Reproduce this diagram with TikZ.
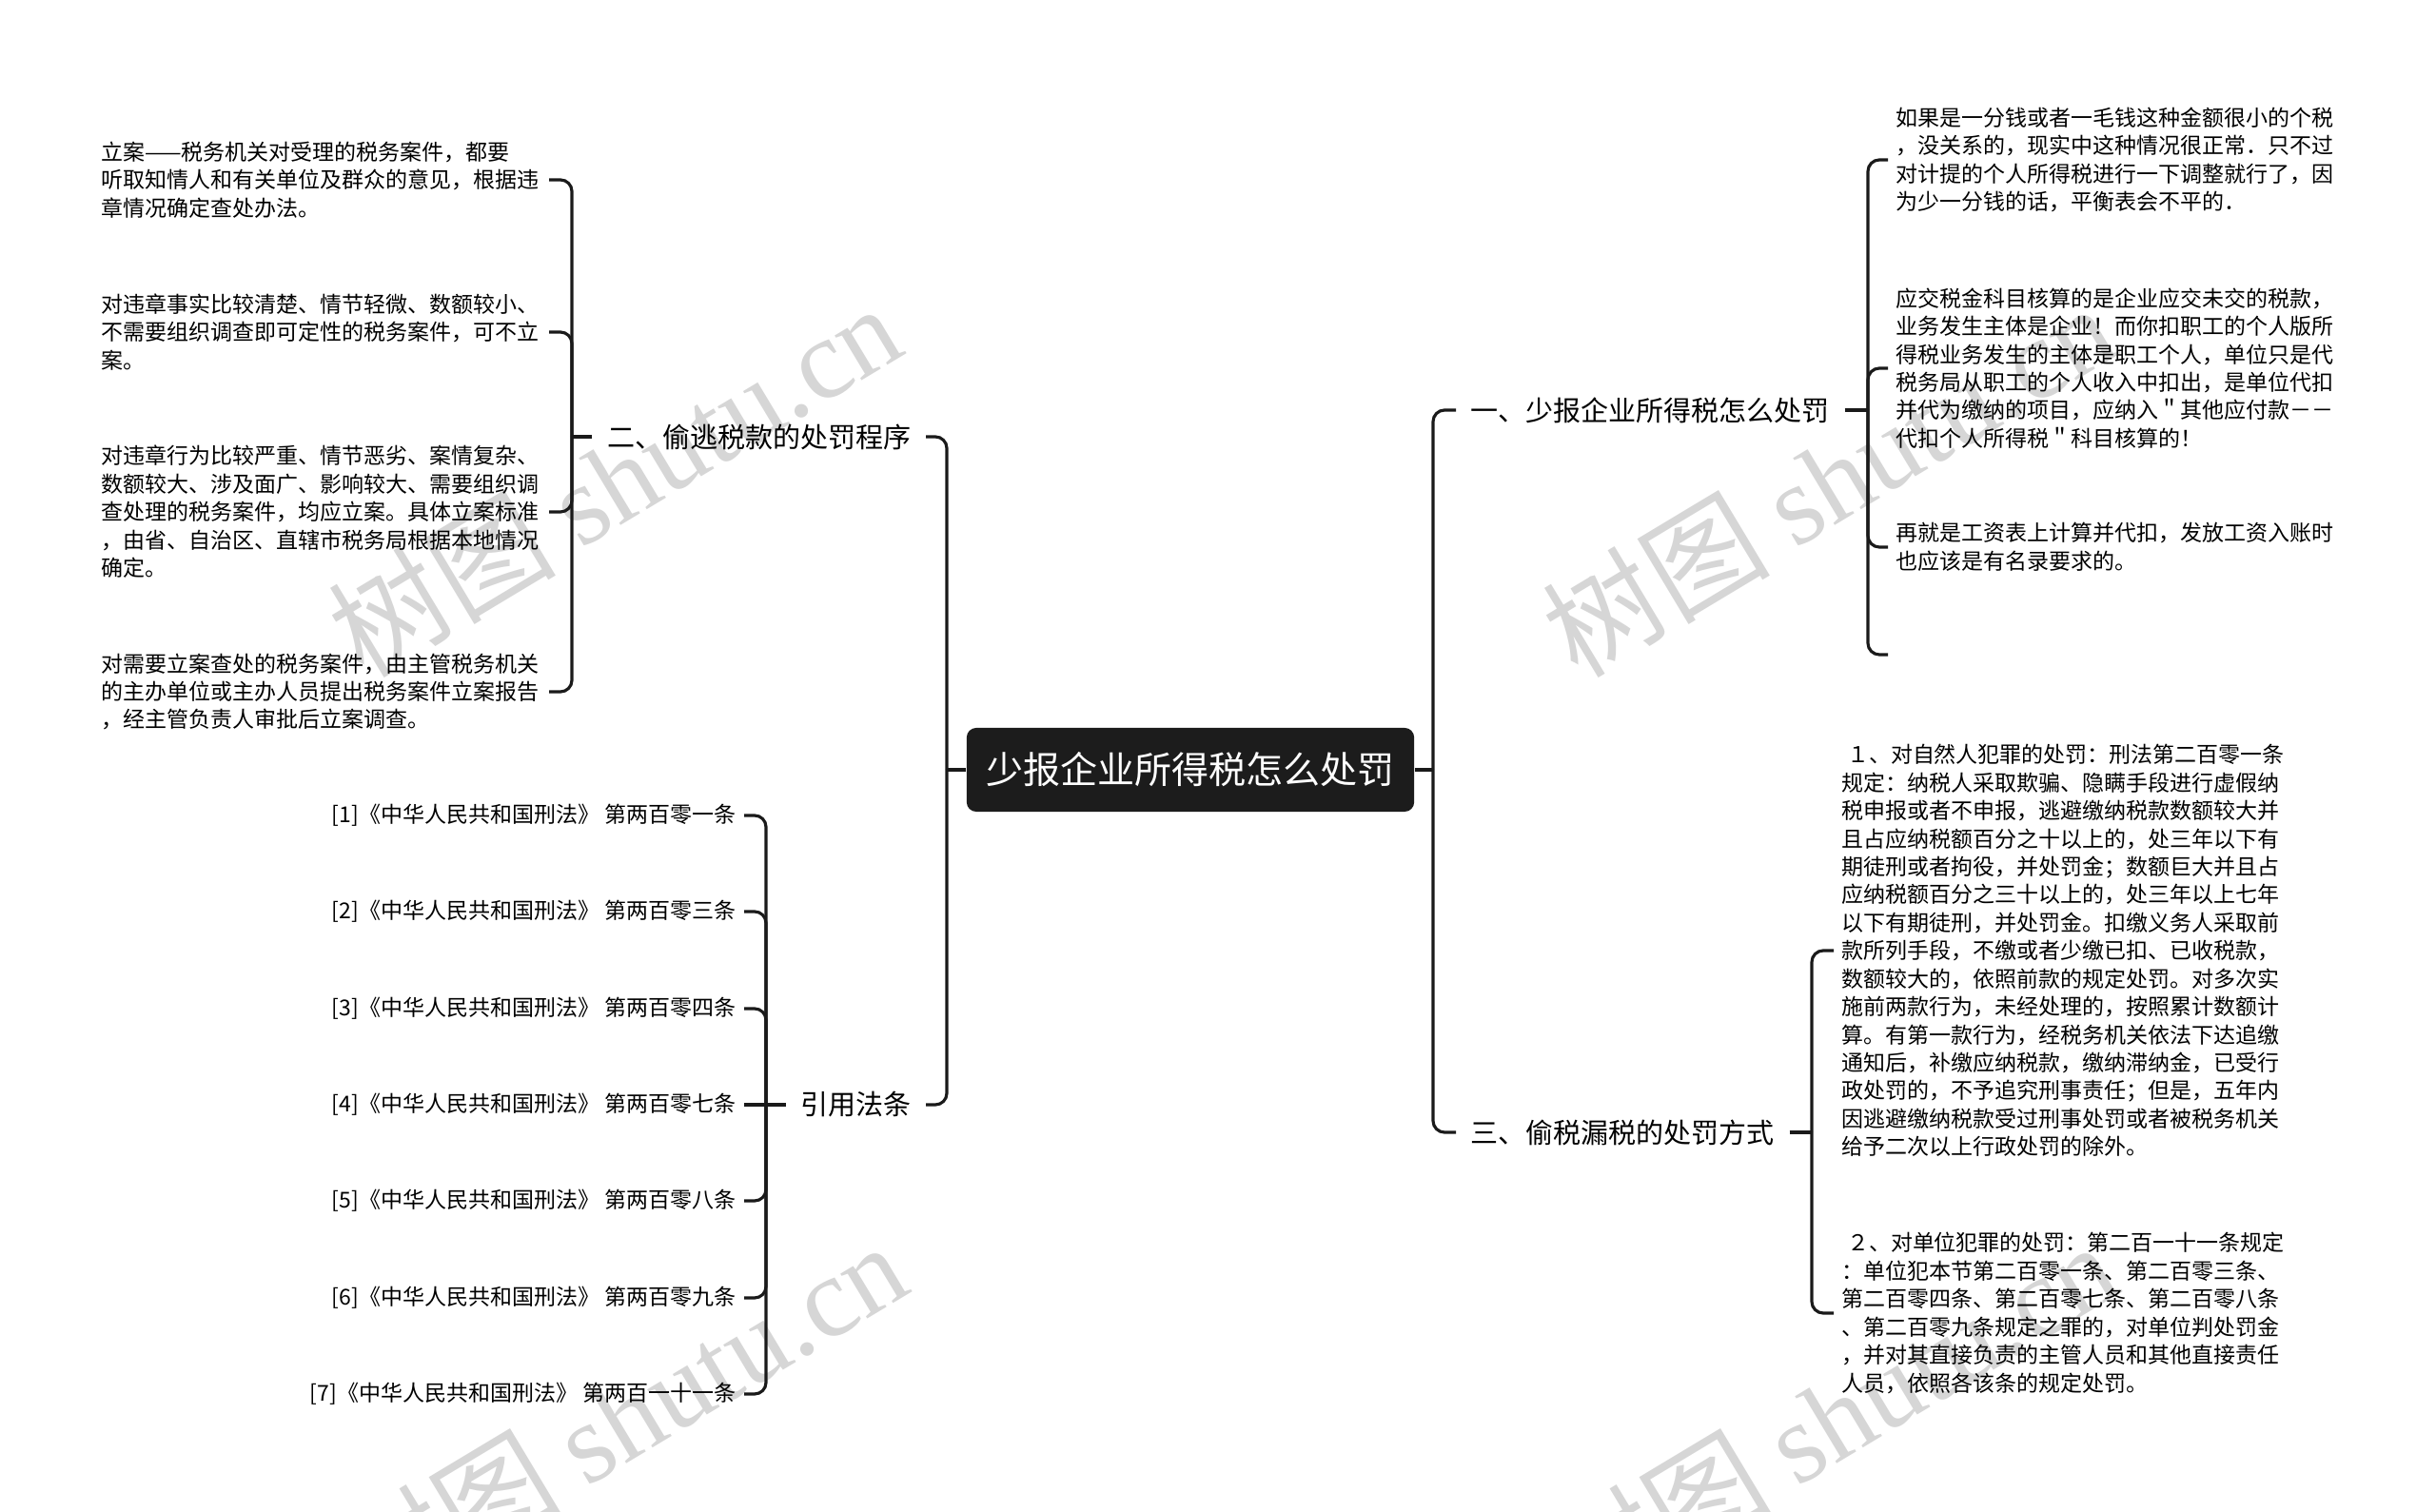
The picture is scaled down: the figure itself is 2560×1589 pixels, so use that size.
\documentclass[tikz,border=0pt]{standalone}
\usepackage{fontspec}
\setmainfont{Noto Sans CJK SC}
\newfontfamily\wmserif{Liberation Serif}
\usetikzlibrary{positioning}
\definecolor{linkgray}{HTML}{1A1A1A}
\definecolor{rootfill}{HTML}{1C1C1C}
\definecolor{markgray}{HTML}{D6D6D6}

\begin{document}
\begin{tikzpicture}[
        x=0.01cm, y=-0.01cm,
        every node/.style={inner sep=0pt},
        root/.style={rectangle, fill=rootfill, rounded corners=0.1cm, text=white, minimum width=4.7cm, minimum height=0.88cm, font=\fontsize{11.1pt}{13pt}\selectfont},
        topic/.style={inner xsep=0.15cm, font=\fontsize{8.25pt}{10pt}\selectfont},
        leaf/.style={inner xsep=0.08cm, text width=4.62cm, align=left, font=\fontsize{6.54pt}{8.37pt}\selectfont},
        cite/.style={inner xsep=0.08cm, align=right, font=\fontsize{6.54pt}{8.37pt}\selectfont},
        link/.style={draw=linkgray, line width=0.9pt, rounded corners=0.12cm},
        watermark/.style={text=markgray, rotate=31, anchor=base west, font=\fontsize{34pt}{34pt}\selectfont}
    ]
        \useasboundingbox (0,0) rectangle (2560,1589);

        % Watermarks
        \node[watermark] (wm1) at (382,715) {树图 {\wmserif shutu.cn}};
        \node[watermark] (wm2) at (1658,715) {树图 {\wmserif shutu.cn}};
        \node[watermark] (wm3) at (388,1701) {树图 {\wmserif shutu.cn}};
        \node[watermark] (wm4) at (1660,1701) {树图 {\wmserif shutu.cn}};

        % Nodes
        \node[root] (root) at (1251,809) {少报企业所得税怎么处罚};

        \node[topic, anchor=east] (proc) at (973,459) {二、偷逃税款的处罚程序};
        \node[topic, anchor=east] (laws) at (973,1161) {引用法条};
        \node[topic, anchor=west] (penalty) at (1530,431) {一、少报企业所得税怎么处罚};
        \node[topic, anchor=west] (ways) at (1530,1190) {三、偷税漏税的处罚方式};

        \node[leaf, anchor=east] (proc1) at (577,189) {立案——税务机关对受理的税务案件，都要\\听取知情人和有关单位及群众的意见，根据违\\章情况确定查处办法。};
        \node[leaf, anchor=east] (proc2) at (577,349) {对违章事实比较清楚、情节轻微、数额较小、\\不需要组织调查即可定性的税务案件，可不立\\案。};
        \node[leaf, anchor=east] (proc3) at (577,538) {对违章行为比较严重、情节恶劣、案情复杂、\\数额较大、涉及面广、影响较大、需要组织调\\查处理的税务案件，均应立案。具体立案标准\\，由省、自治区、直辖市税务局根据本地情况\\确定。};
        \node[leaf, anchor=east] (proc4) at (577,727) {对需要立案查处的税务案件，由主管税务机关\\的主办单位或主办人员提出税务案件立案报告\\，经主管负责人审批后立案调查。};

        \node[cite, anchor=east] (law1) at (782,857) {[1]《中华人民共和国刑法》 第两百零一条};
        \node[cite, anchor=east] (law2) at (782,958) {[2]《中华人民共和国刑法》 第两百零三条};
        \node[cite, anchor=east] (law3) at (782,1060) {[3]《中华人民共和国刑法》 第两百零四条};
        \node[cite, anchor=east] (law4) at (782,1161) {[4]《中华人民共和国刑法》 第两百零七条};
        \node[cite, anchor=east] (law5) at (782,1262) {[5]《中华人民共和国刑法》 第两百零八条};
        \node[cite, anchor=east] (law6) at (782,1364) {[6]《中华人民共和国刑法》 第两百零九条};
        \node[cite, anchor=east] (law7) at (782,1465) {[7]《中华人民共和国刑法》 第两百一十一条};

        \node[leaf, anchor=west] (pen1) at (1984,168) {如果是一分钱或者一毛钱这种金额很小的个税\\，没关系的，现实中这种情况很正常．只不过\\对计提的个人所得税进行一下调整就行了，因\\为少一分钱的话，平衡表会不平的．};
        \node[leaf, anchor=west] (pen2) at (1984,387) {应交税金科目核算的是企业应交未交的税款，\\业务发生主体是企业！而你扣职工的个人版所\\得税业务发生的主体是职工个人，单位只是代\\税务局从职工的个人收入中扣出，是单位代扣\\并代为缴纳的项目，应纳入＂其他应付款－－\\代扣个人所得税＂科目核算的！};
        \node[leaf, anchor=west] (pen3) at (1984,575) {再就是工资表上计算并代扣，发放工资入账时\\也应该是有名录要求的。};
        \coordinate (pen4) at (1984,688);

        \node[leaf, anchor=west] (way1) at (1927,999) {\hspace*{1.5pt}１、对自然人犯罪的处罚：刑法第二百零一条\\规定：纳税人采取欺骗、隐瞒手段进行虚假纳\\税申报或者不申报，逃避缴纳税款数额较大并\\且占应纳税额百分之十以上的，处三年以下有\\期徒刑或者拘役，并处罚金；数额巨大并且占\\应纳税额百分之三十以上的，处三年以上七年\\以下有期徒刑，并处罚金。扣缴义务人采取前\\款所列手段，不缴或者少缴已扣、已收税款，\\数额较大的，依照前款的规定处罚。对多次实\\施前两款行为，未经处理的，按照累计数额计\\算。有第一款行为，经税务机关依法下达追缴\\通知后，补缴应纳税款，缴纳滞纳金，已受行\\政处罚的，不予追究刑事责任；但是，五年内\\因逃避缴纳税款受过刑事处罚或者被税务机关\\给予二次以上行政处罚的除外。};
        \node[leaf, anchor=west] (way2) at (1927,1380) {\hspace*{1.5pt}２、对单位犯罪的处罚：第二百一十一条规定\\：单位犯本节第二百零一条、第二百零三条、\\第二百零四条、第二百零七条、第二百零八条\\、第二百零九条规定之罪的，对单位判处罚金\\，并对其直接负责的主管人员和其他直接责任\\人员，依照各该条的规定处罚。};

        % Junctions
        \coordinate (rootL) at (995,809);
        \coordinate (rootR) at (1506,809);
        \coordinate (procJ) at (601,459);
        \coordinate (lawsJ) at (805,1161);
        \coordinate (penJ) at (1963,431);
        \coordinate (waysJ) at (1904,1190);

        % Connectors
        \draw[link] (root.west) -- (rootL);
        \draw[link] (rootL) |- (proc.east);
        \draw[link] (rootL) |- (laws.east);
        \draw[link] (root.east) -- (rootR);
        \draw[link] (rootR) |- (penalty.west);
        \draw[link] (rootR) |- (ways.west);

        \draw[link] (proc.west) -- (procJ);
        \draw[link] (procJ) |- (proc1.east);
        \draw[link] (procJ) |- (proc2.east);
        \draw[link] (procJ) |- (proc3.east);
        \draw[link] (procJ) |- (proc4.east);

        \draw[link] (laws.west) -- (lawsJ);
        \draw[link] (lawsJ) |- (law1.east);
        \draw[link] (lawsJ) |- (law2.east);
        \draw[link] (lawsJ) |- (law3.east);
        \draw[link] (lawsJ) -- (law4.east);
        \draw[link] (lawsJ) |- (law5.east);
        \draw[link] (lawsJ) |- (law6.east);
        \draw[link] (lawsJ) |- (law7.east);

        \draw[link] (penalty.east) -- (penJ);
        \draw[link] (penJ) |- (pen1.west);
        \draw[link] (penJ) |- (pen2.west);
        \draw[link] (penJ) |- (pen3.west);
        \draw[link] (penJ) |- (pen4);

        \draw[link] (ways.east) -- (waysJ);
        \draw[link] (waysJ) |- (way1.west);
        \draw[link] (waysJ) |- (way2.west);
    \end{tikzpicture}
\end{document}
